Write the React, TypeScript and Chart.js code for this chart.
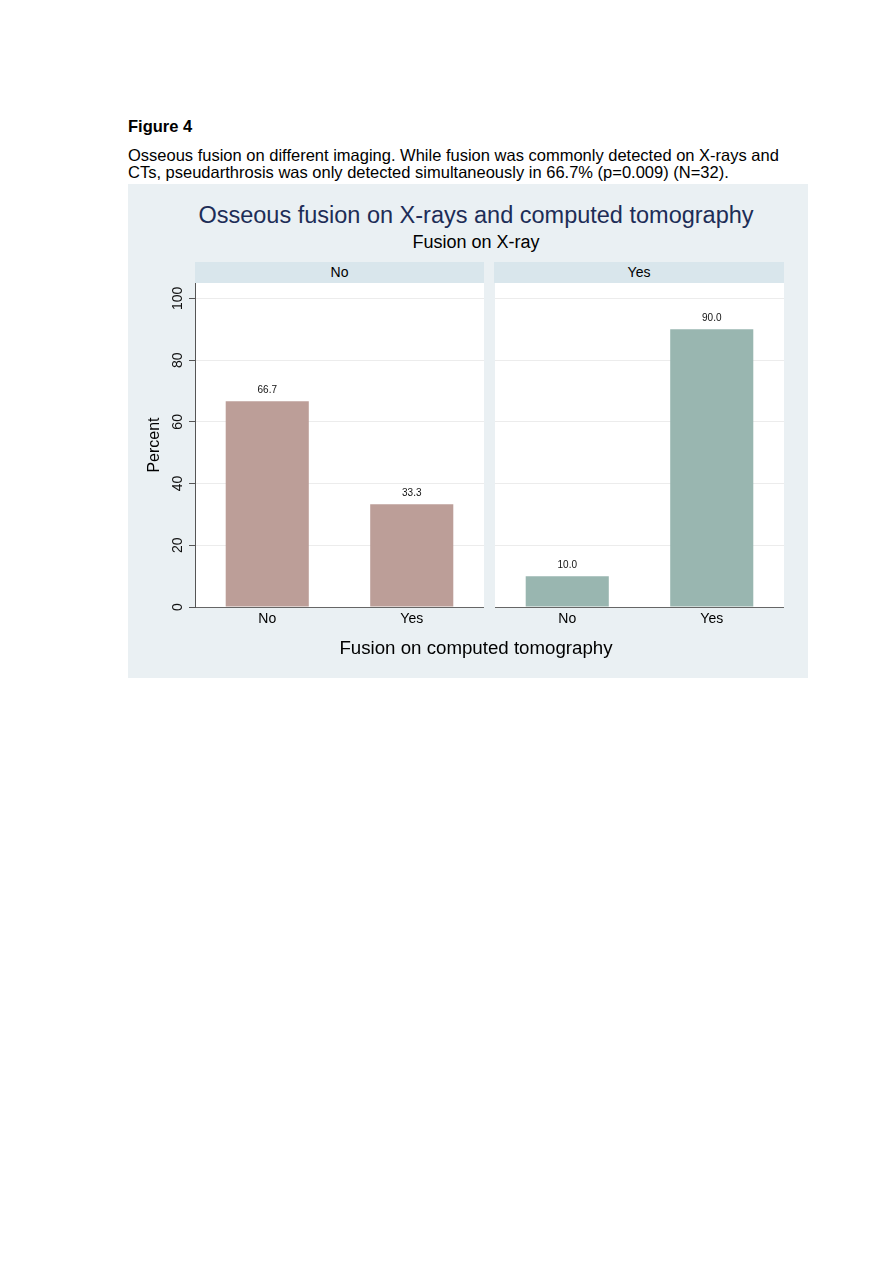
import { useEffect, useRef } from "react"
import { Chart, registerables } from "chart.js"

Chart.register(...registerables)

const FONT = '"Liberation Sans", Arial, Helvetica, sans-serif'

// categories on the x axis (fusion on CT), one panel per fusion on X-ray
const ctCategories = ["No", "Yes"]
const xrayPanels = ["No", "Yes"]
const percentXrayNo = [66.7, 33.3]
const percentXrayYes = [10.0, 90.0]
const yTickValues = [0, 20, 40, 60, 80, 100]

const panelColors = ["#bc9e98", "#99b6b0"]

const plotBackground = {
  id: "plotBackground",
  beforeDraw(chart: any) {
    const { ctx, chartArea } = chart
    ctx.save()
    ctx.fillStyle = "#ffffff"
    ctx.fillRect(chartArea.left, chartArea.top, chartArea.right - chartArea.left, chartArea.bottom - chartArea.top)
    ctx.restore()
  },
}

const valueLabels = {
  id: "valueLabels",
  afterDatasetsDraw(chart: any) {
    const ctx = chart.ctx
    const meta = chart.getDatasetMeta(0)
    const data = chart.data.datasets[0].data
    ctx.save()
    ctx.font = `10px ${FONT}`
    ctx.fillStyle = "#111"
    ctx.textAlign = "center"
    ctx.textBaseline = "bottom"
    meta.data.forEach((bar: any, i: number) => {
      ctx.fillText(Number(data[i]).toFixed(1), bar.x, bar.y - 6)
    })
    ctx.restore()
  },
}

// rotated y tick labels, like the Stata original
const rotatedYTicks = {
  id: "rotatedYTicks",
  afterDraw(chart: any) {
    if (!chart.options.plugins.rotatedYTicks?.show) return
    const ctx = chart.ctx
    const s = chart.scales.y
    ctx.save()
    ctx.font = `14px ${FONT}`
    ctx.fillStyle = "#111"
    ctx.textAlign = "center"
    ctx.textBaseline = "middle"
    yTickValues.forEach((v) => {
      ctx.save()
      ctx.translate(s.right - 16.5, s.getPixelForValue(v))
      ctx.rotate(-Math.PI / 2)
      ctx.fillText(String(v), 0, 0)
      ctx.restore()
    })
    ctx.restore()
  },
}

interface PanelProps {
  values: number[]
  color: string
  showAxis: boolean
}

const Panel: React.FC<PanelProps> = ({ values, color, showAxis }) => {
  const chartRef = useRef<HTMLCanvasElement | null>(null)

  useEffect(() => {
    if (!chartRef.current) return
    const chart = new Chart(chartRef.current, {
      type: "bar",
      data: {
        labels: ctCategories,
        datasets: [
          {
            data: values,
            backgroundColor: color,
            borderWidth: 0,
            barPercentage: 0.575,
            categoryPercentage: 1,
          },
        ],
      },
      options: {
        animation: false,
        responsive: true,
        maintainAspectRatio: false,
        layout: { padding: 0 },
        plugins: {
          legend: { display: false },
          tooltip: { enabled: false },
          title: { display: false },
          rotatedYTicks: { show: showAxis },
        } as any,
        scales: {
          x: {
            offset: true,
            grid: { display: false, drawTicks: false },
            border: { display: true, color: "#666", width: 1 },
            ticks: { color: "#000", font: { size: 14, family: FONT }, padding: 4 },
            afterFit: (s: any) => {
              s.height = 36
            },
          },
          y: {
            min: 0,
            max: 105,
            afterBuildTicks: (a: any) => {
              a.ticks = a.ticks.filter((t: any) => yTickValues.includes(t.value))
            },
            ticks: { display: false, stepSize: 20 },
            grid: {
              color: "#ececec",
              tickColor: "#555",
              tickLength: 6,
              drawTicks: showAxis,
            },
            border: { display: showAxis, color: "#555", width: 1 },
            title: {
              display: showAxis,
              text: "Percent",
              color: "#000",
              font: { size: 16, family: FONT },
              padding: 6,
            },
            afterFit: (s: any) => {
              s.width = showAxis ? 56 : 1
            },
          },
        },
      },
      plugins: [plotBackground, valueLabels, rotatedYTicks],
    })
    return () => chart.destroy()
  }, [values, color, showAxis])

  return <canvas ref={chartRef} />
}

const abs = (left: number, top: number, width: number, height: number): React.CSSProperties => ({
  position: "absolute",
  left,
  top,
  width,
  height,
})

export default function App() {
  return (
    <div style={{ ...abs(0, 0, 892, 1262), background: "#fff", fontFamily: FONT, color: "#000" }}>
      <div style={{ ...abs(128, 116, 600, 20), fontWeight: "bold", fontSize: 16.5, lineHeight: "20px" }}>
        Figure 4
      </div>
      <div style={{ ...abs(128, 147, 720, 36), fontSize: 16.5, lineHeight: "17px", whiteSpace: "nowrap" }}>
        Osseous fusion on different imaging. While fusion was commonly detected on X-rays and
        <br />
        CTs, pseudarthrosis was only detected simultaneously in 66.7% (p=0.009) (N=32).
      </div>

      <div style={{ ...abs(128, 184, 680, 494), background: "#eaf0f3" }} />
      <div style={{ ...abs(128, 201, 696, 28), textAlign: "center", fontSize: 23.5, lineHeight: "28px", color: "#1d2d57" }}>
        Osseous fusion on X-rays and computed tomography
      </div>
      <div style={{ ...abs(128, 231, 696, 22), textAlign: "center", fontSize: 18, lineHeight: "22px" }}>
        Fusion on X-ray
      </div>

      <div style={{ ...abs(195, 262, 289, 21), background: "#d9e6ec", textAlign: "center", fontSize: 14, lineHeight: "21px" }}>
        {xrayPanels[0]}
      </div>
      <div style={{ ...abs(494, 262, 290, 21), background: "#d9e6ec", textAlign: "center", fontSize: 14, lineHeight: "21px" }}>
        {xrayPanels[1]}
      </div>

      <div style={abs(139, 283, 345, 360)}>
        <Panel values={percentXrayNo} color={panelColors[0]} showAxis={true} />
      </div>
      <div style={abs(494, 283, 290, 360)}>
        <Panel values={percentXrayYes} color={panelColors[1]} showAxis={false} />
      </div>

      <div style={{ ...abs(128, 637, 696, 22), textAlign: "center", fontSize: 18.7, lineHeight: "22px" }}>
        Fusion on computed tomography
      </div>
    </div>
  )
}
